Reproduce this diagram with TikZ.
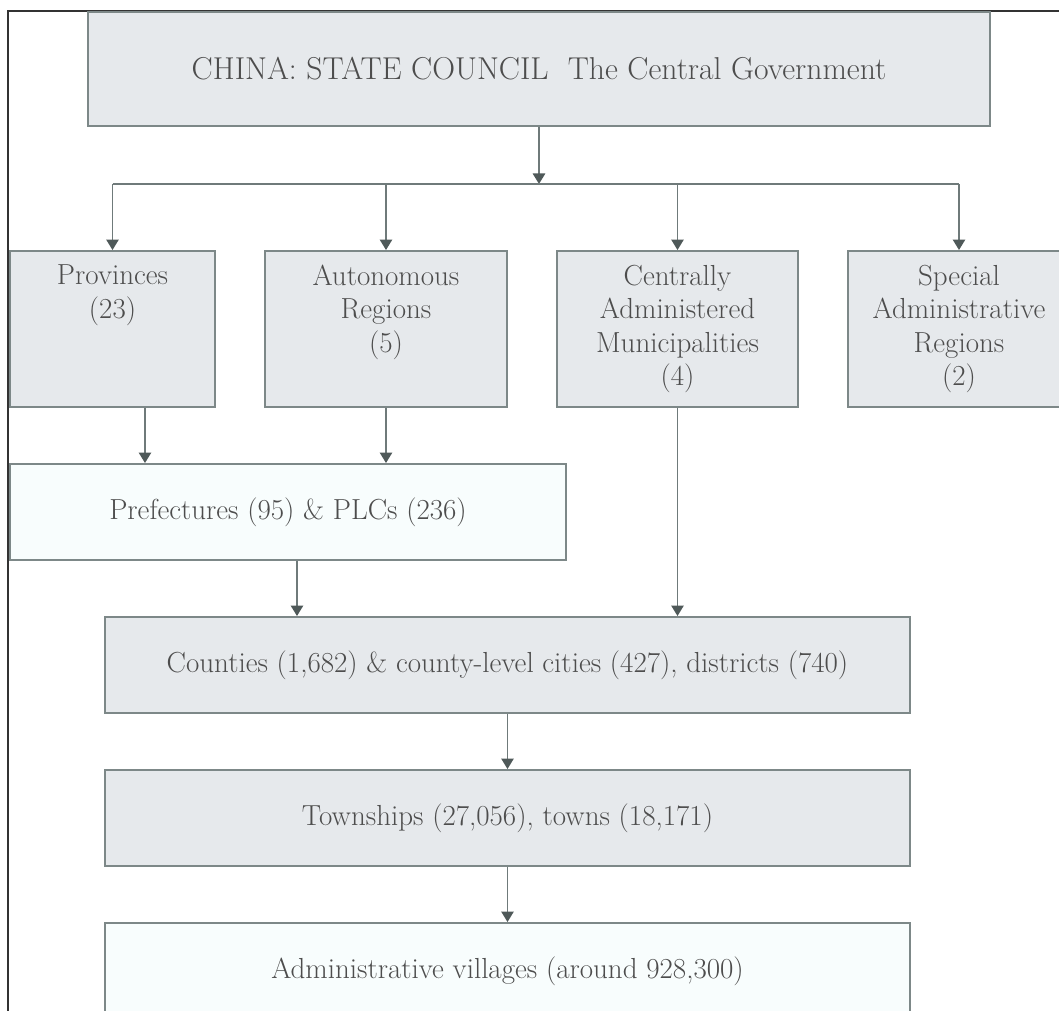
\documentclass[tikz,border=0pt]{standalone}
\usepackage{tikz}
\usetikzlibrary{arrows.meta}

\definecolor{boxgray}{HTML}{E6E9EC}
\definecolor{boxlight}{HTML}{F8FDFD}
\definecolor{edgegray}{HTML}{7D8888}
\definecolor{linkgray}{HTML}{6F7A7A}
\definecolor{tipgray}{HTML}{4F5959}
\definecolor{txtgray}{HTML}{4D4D4D}

\begin{document}
\begin{tikzpicture}[x=0.02cm, y=-0.02cm,
every node/.style={draw=edgegray, line width=1.1pt, text=txtgray,
    font=\fontsize{16.5}{19}\selectfont, inner sep=0pt},
tier/.style={fill=boxgray, minimum height=3.12cm},
band/.style={fill=boxgray, minimum height=1.92cm},
pale/.style={fill=boxlight},
lab/.style={draw=none, anchor=north, align=center, inner sep=0.28cm},
link/.style={draw=linkgray, line width=1.1pt,
    -{Triangle[width=7pt,length=6pt,color=tipgray]}}
]
\useasboundingbox (0,0) rectangle (1059,1011);
\clip (0,0) rectangle (1059,1011);

\draw[black!80, line width=1.3pt] (8,1011) -- (8,11) -- (1059,11);

\node[fill=boxgray, minimum width=18.04cm, minimum height=2.28cm,
    font=\fontsize{18}{22}\selectfont] (gov) at (539,69)
    {CHINA: STATE COUNCIL\ \ The Central Government};

\node[tier, minimum width=4.1cm, label={[lab]north:Provinces\\(23)}] (prov) at (112.5,329) {};
\node[tier, minimum width=4.84cm, label={[lab]north:Autonomous\\Regions\\(5)}] (auto) at (386,329) {};
\node[tier, minimum width=4.82cm,
    label={[lab]north:Centrally\\Administered\\Municipalities\\(4)}] (cent) at (677.5,329) {};
\node[tier, minimum width=4.44cm,
    label={[lab]north:Special\\Administrative\\Regions\\(2)}] (spec) at (959,329) {};

\node[band, pale, minimum width=11.12cm] (pref) at (288,512) {Prefectures (95) \& PLCs (236)};
\node[band, minimum width=16.1cm] (coun) at (507.5,665)
    {Counties (1,682) \& county-level cities (427), districts (740)};
\node[band, minimum width=16.1cm] (town) at (507.5,818) {Townships (27,056), towns (18,171)};
\node[band, pale, minimum width=16.1cm] (vill) at (507.5,971) {Administrative villages (around 928,300)};

\coordinate (bus) at (539,184);
\draw[link] (gov) -- (bus);
\draw[draw=linkgray, line width=1.1pt] (prov.north |- bus) -- (spec.north |- bus);
\foreach \n in {prov,auto,cent,spec}
    \draw[link] (\n.north |- bus) -- (\n.north);

\draw[link] ([xshift=0.65cm]prov.south) -- ([xshift=0.65cm]prov.south |- pref.north);
\draw[link] (auto.south) -- (auto.south |- pref.north);
\draw[link] ([xshift=0.18cm]pref.south) -- ([xshift=0.18cm]pref.south |- coun.north);
\draw[link] (cent.south) -- (cent.south |- coun.north);
\draw[link] (coun) -- (town);
\draw[link] (town) -- (vill);
\end{tikzpicture}
\end{document}
